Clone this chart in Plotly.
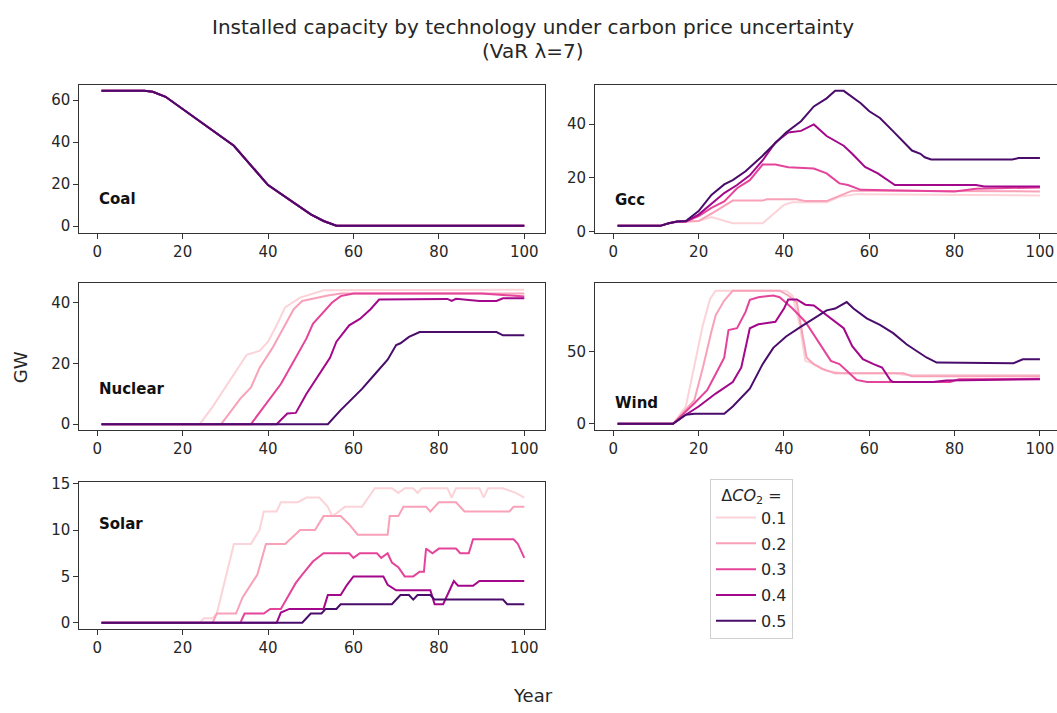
import plotly.graph_objects as go

# ---- data: installed capacity (GW) by technology, per carbon-price step ----
delta_co2 = ["0.1", "0.2", "0.3", "0.4", "0.5"]
colors = ["#fbd3d8", "#f8a1b9", "#e5449b", "#a3078a", "#4a0c6b"]

coal_years = [1, 11, 13, 16, 32, 40, 50, 53, 56, 100]
coal_vals = [64.5, 64.5, 64.0, 61.6, 38.3, 19.6, 5.6, 2.5, 0.2, 0.2]

gcc_years_01 = [1, 11, 13, 15, 17, 20, 23, 28, 35, 40, 42, 50, 53, 57, 100]
gcc_vals_01 = [2.2, 2.2, 3.2, 3.8, 3.8, 4.0, 5.5, 3.2, 3.2, 10.0, 11.0, 11.0, 13.0, 14.0, 13.5]
gcc_years_02 = [1, 11, 13, 15, 17, 20, 24, 28, 35, 36, 43, 45, 50, 53, 56, 100]
gcc_vals_02 = [2.2, 2.2, 3.2, 3.8, 3.8, 4.0, 7.7, 11.6, 11.6, 12.1, 12.1, 11.4, 11.4, 13.5, 15.3, 15.0]
gcc_years_03 = [1, 11, 13, 15, 17, 20, 23, 26, 29, 32, 35, 38, 41, 47, 50, 53, 55, 58, 80, 85, 100]
gcc_vals_03 = [2.2, 2.2, 3.2, 3.8, 3.8, 5.8, 8.9, 11.3, 16.2, 19.2, 25.0, 25.0, 24.0, 23.5, 21.7, 18.0, 17.4, 15.6, 15.0, 16.0, 16.5]
gcc_years_04 = [1, 11, 13, 15, 17, 20, 26, 29, 32, 35, 38, 41, 44, 47, 50, 54, 56, 59, 62, 66, 85, 87, 100]
gcc_vals_04 = [2.2, 2.2, 3.2, 3.8, 3.8, 6.4, 14.4, 17.4, 21.0, 26.5, 33.2, 36.9, 37.5, 39.9, 35.6, 32.0, 29.0, 24.1, 21.7, 17.4, 17.4, 16.8, 16.8]
gcc_years_05 = [1, 11, 13, 15, 17, 20, 23, 26, 28, 31, 35, 40.5, 44, 47, 50, 52, 54, 58, 60, 62.5, 65.5, 70, 72, 73, 74.5, 93.5, 95, 100]
gcc_vals_05 = [2.2, 2.2, 3.2, 3.8, 4.0, 7.7, 13.7, 17.6, 19.2, 22.5, 28.3, 36.9, 41.1, 46.6, 49.6, 52.4, 52.4, 47.8, 44.8, 42.3, 37.5, 30.2, 29.0, 27.7, 26.9, 26.9, 27.4, 27.4]

nuc_years_01 = [1, 24, 27, 30, 33, 35, 38, 40, 42, 44, 47.5, 50.5, 53, 100]
nuc_vals_01 = [0, 0, 5.7, 12.1, 18.5, 22.8, 24.1, 27.1, 32.5, 38.4, 41.6, 43.0, 44.0, 44.2]
nuc_years_02 = [1, 29, 31.5, 33.5, 36, 38, 41, 43.5, 46, 48, 51.5, 54, 57, 100]
nuc_vals_02 = [0, 0, 4.6, 8.4, 12.1, 18.5, 25.0, 31.4, 37.8, 40.5, 41.6, 42.3, 43.0, 43.0]
nuc_years_03 = [1, 36, 39, 43, 46, 49, 50.5, 53, 55, 57, 60, 90, 100]
nuc_vals_03 = [0, 0, 5.7, 13.2, 20.7, 28.2, 33.0, 36.8, 40.0, 42.1, 43.0, 43.0, 42.0]
nuc_years_04 = [1, 42, 44.5, 46.5, 49, 51.5, 54.5, 56, 59, 61.5, 64, 66, 82, 83, 84, 89.5, 93.5, 95, 100]
nuc_vals_04 = [0, 0, 3.5, 3.7, 10.0, 15.3, 21.8, 27.1, 32.5, 34.6, 37.8, 41.0, 41.2, 40.5, 41.2, 40.5, 40.5, 41.4, 41.4]
nuc_years_05 = [1, 54, 57, 60, 62, 65, 68, 70, 71, 73, 75.5, 93.5, 95, 100]
nuc_vals_05 = [0, 0, 4.6, 8.9, 11.6, 16.4, 21.2, 26.0, 26.6, 28.7, 30.3, 30.3, 29.2, 29.2]

wind_years_01 = [1, 14, 17, 19.5, 21, 22.7, 24, 40.5, 42, 43.7, 45, 47, 50, 54, 66, 68, 100]
wind_vals_01 = [0, 0, 12.0, 45.9, 68.6, 86.7, 92.3, 92.3, 88.9, 68.6, 43.7, 41.4, 36.9, 35.0, 35.0, 34.0, 33.8]
wind_years_02 = [1, 14, 19, 21, 23, 24, 26, 28, 39, 41, 43, 44.5, 45.3, 47, 49, 52, 68, 70, 100]
wind_vals_02 = [0, 0, 16.5, 39.0, 64.0, 75.3, 85.5, 92.3, 92.3, 89.0, 84.4, 57.5, 46.0, 41.4, 38.0, 35.0, 35.0, 33.0, 33.0]
wind_years_03 = [1, 14, 19, 22, 24, 26, 27, 29, 31, 32, 34, 37.5, 39, 42, 45, 48, 51, 53, 55.5, 57, 59.5, 79, 81, 100]
wind_vals_03 = [0, 0, 14.3, 23.3, 34.6, 45.9, 65.0, 66.3, 77.6, 86.0, 87.8, 88.9, 87.8, 79.9, 70.8, 57.2, 43.7, 41.4, 34.6, 30.5, 29.0, 29.0, 31.0, 31.2]
wind_years_04 = [1, 14, 17, 20, 24, 28, 30, 32, 34, 38, 40, 41, 43, 45, 47, 50, 54, 56, 58.5, 61, 63, 65, 65.6, 75, 78, 100]
wind_vals_04 = [0, 0, 6.3, 12.0, 21.0, 29.0, 39.1, 66.3, 69.0, 70.8, 79.9, 86.2, 86.2, 82.6, 82.1, 75.3, 66.3, 53.8, 44.8, 41.4, 39.1, 30.1, 29.0, 29.0, 30.0, 31.0]
wind_years_05 = [1, 14, 17, 19, 26, 28, 32, 35, 37.5, 40.5, 44, 47, 50, 52, 54.7, 56.3, 59.4, 62.5, 65.6, 68.8, 71, 73.4, 75.8, 80, 81, 82, 93.8, 96, 100]
wind_vals_05 = [0, 0, 6.3, 7.0, 7.0, 12.0, 24.4, 41.4, 52.7, 60.6, 67.4, 73.1, 78.7, 79.9, 84.4, 79.9, 73.1, 68.6, 62.9, 55.0, 50.5, 46.0, 42.5, 42.5, 42.0, 42.5, 42.0, 44.8, 44.8]

solar_years_01 = [1, 24, 25, 27, 28, 30, 32, 36, 38, 39, 42, 43, 47, 49, 52, 54, 55, 56, 58, 62, 65, 69, 70.5, 72, 74, 75, 76, 82, 83, 84, 89.5, 90.5, 91.5, 95, 98, 100]
solar_vals_01 = [0, 0, 0.5, 0.5, 1, 4.8, 8.5, 8.5, 10, 12, 12, 13, 13, 13.5, 13.5, 12.5, 11.5, 11.8, 12.5, 12.5, 14.5, 14.5, 14, 14.5, 14.5, 14, 14.5, 14.5, 13.5, 14.5, 14.5, 13.5, 14.5, 14.5, 14, 13.5]
solar_years_02 = [1, 27, 28, 32.5, 34, 36, 37.5, 39.5, 44, 47.5, 51, 53, 57, 59, 61, 68, 68.5, 70.5, 71.7, 77, 78, 79, 80, 84, 86, 96.5, 97.5, 100]
solar_vals_02 = [0, 0, 1, 1, 2.7, 4.1, 5.2, 8.5, 8.5, 10, 10, 11.5, 11.5, 10.6, 9.5, 9.5, 11.5, 11.5, 12.5, 12.5, 12, 12.5, 13, 13, 12, 12, 12.5, 12.5]
solar_years_03 = [1, 33.5, 34.5, 39, 40.5, 43, 44.5, 46.5, 48, 50.5, 53, 59, 60, 61.5, 65.5, 66.5, 68, 69, 70.5, 72, 74, 75.5, 76.5, 77, 78.5, 80, 84, 85, 87, 88, 97.5, 98.5, 100]
solar_vals_03 = [0, 0, 1, 1, 1.5, 1.5, 2.7, 4.3, 5.2, 6.6, 7.5, 7.5, 7, 7.5, 7.5, 7, 7.5, 6.5, 6, 5, 5, 5.5, 5.5, 8, 7.5, 8, 8, 7.5, 7.5, 9, 9, 8.5, 7]
solar_years_04 = [1, 42, 43, 45, 53, 54, 57, 58.5, 60, 67, 68, 70, 78, 79, 81, 83.5, 84.5, 88, 89.5, 100]
solar_vals_04 = [0, 0, 1.1, 1.5, 1.5, 3, 3, 4.1, 5, 5, 4.1, 3.5, 3.5, 2, 2, 4.5, 4, 4, 4.5, 4.5]
solar_years_05 = [1, 48, 50, 52.5, 53.5, 56, 57, 69, 71, 73, 74, 75, 78, 79, 95, 96, 100]
solar_vals_05 = [0, 0, 1, 1, 1.5, 1.5, 2, 2, 3, 3, 2.5, 3, 3, 2.5, 2.5, 2, 2]

x_ticks = [0, 20, 40, 60, 80, 100]

panels = [
    # name, row, col, series (years, values), y ticks, y range, label y
    ("Coal", 1, 1,
     [(coal_years, coal_vals)] * 5,
     [0, 20, 40, 60], [-3.3, 67.4], 12.9),
    ("Gcc", 1, 2,
     [(gcc_years_01, gcc_vals_01), (gcc_years_02, gcc_vals_02), (gcc_years_03, gcc_vals_03),
      (gcc_years_04, gcc_vals_04), (gcc_years_05, gcc_vals_05)],
     [0, 20, 40], [-0.5, 54.7], 11.9),
    ("Nuclear", 2, 1,
     [(nuc_years_01, nuc_vals_01), (nuc_years_02, nuc_vals_02), (nuc_years_03, nuc_vals_03),
      (nuc_years_04, nuc_vals_04), (nuc_years_05, nuc_vals_05)],
     [0, 20, 40], [-1.9, 46.4], 11.6),
    ("Wind", 2, 2,
     [(wind_years_01, wind_vals_01), (wind_years_02, wind_vals_02), (wind_years_03, wind_vals_03),
      (wind_years_04, wind_vals_04), (wind_years_05, wind_vals_05)],
     [0, 50], [-4.2, 97.6], 14.3),
    ("Solar", 3, 1,
     [(solar_years_01, solar_vals_01), (solar_years_02, solar_vals_02), (solar_years_03, solar_vals_03),
      (solar_years_04, solar_vals_04), (solar_years_05, solar_vals_05)],
     [0, 5, 10, 15], [-0.63, 15.2], 10.6),
]

# ---- layout geometry (paper fractions) ----
W, H = 1057, 713
col_dom = {1: [79.3 / W, 545 / W], 2: [595 / W, 1.0]}
col_rng = {1: [-4.2, 104.85], 2: [-4.29, 104.0]}
row_dom = {1: [1 - 231 / H, 1 - 79.3 / H],
           2: [1 - 432 / H, 1 - 282 / H],
           3: [1 - 635 / H, 1 - 485 / H]}

FONT = "DejaVu Sans"
AX = "#333333"
TXT = "#262626"
TICK = 15

fig = go.Figure()
layout = dict(
    width=W, height=H,
    margin=dict(l=0, r=0, t=0, b=0),
    paper_bgcolor="white", plot_bgcolor="white",
    font=dict(family=FONT, size=TICK, color=TXT),
    annotations=[],
    showlegend=True,
)

for i, (name, row, col, series, yt, yr, label_y) in enumerate(panels):
    n = i + 1
    xa = "xaxis" if n == 1 else f"xaxis{n}"
    ya = "yaxis" if n == 1 else f"yaxis{n}"
    xr = "x" if n == 1 else f"x{n}"
    yref = "y" if n == 1 else f"y{n}"
    for k, (yrs, vals) in enumerate(series):
        fig.add_trace(go.Scatter(
            x=yrs, y=vals, mode="lines",
            line=dict(color=colors[k], width=2),
            name=delta_co2[k], legendgroup=delta_co2[k],
            showlegend=(n == 1), xaxis=xr, yaxis=yref,
            hoverinfo="skip",
        ))
    layout[xa] = dict(
        domain=col_dom[col], range=col_rng[col], anchor=yref,
        tickvals=x_ticks, ticks="outside", ticklen=5, tickcolor=AX,
        showline=True, linecolor=AX, linewidth=1, mirror=True,
        showgrid=False, zeroline=False,
        tickfont=dict(family=FONT, size=TICK, color=TXT),
    )
    layout[ya] = dict(
        domain=row_dom[row], range=yr, anchor=xr,
        tickvals=yt, ticks="outside", ticklen=5, tickcolor=AX,
        showline=True, linecolor=AX, linewidth=1,
        mirror=(col == 1),
        showgrid=False, zeroline=False,
        tickfont=dict(family=FONT, size=TICK, color=TXT),
    )
    layout["annotations"].append(dict(
        x=0, y=label_y, xref=xr, yref=yref, text=f"<b>{name}</b>",
        showarrow=False, xanchor="left", yanchor="middle",
        font=dict(family=FONT, size=15, color="#111111"),
    ))

# figure titles and shared axis labels
layout["annotations"] += [
    dict(x=533 / W, y=1 - 20 / H, xref="paper", yref="paper",
         text="Installed capacity by technology under carbon price uncertainty",
         showarrow=False, xanchor="center", yanchor="middle",
         font=dict(family=FONT, size=20, color=TXT)),
    dict(x=533 / W, y=1 - 45 / H, xref="paper", yref="paper",
         text="(VaR λ=7)",
         showarrow=False, xanchor="center", yanchor="middle",
         font=dict(family=FONT, size=20, color=TXT)),
    dict(x=20 / W, y=1 - 368 / H, xref="paper", yref="paper",
         text="GW", textangle=-90,
         showarrow=False, xanchor="center", yanchor="middle",
         font=dict(family=FONT, size=18, color=TXT)),
    dict(x=533 / W, y=1 - 703 / H, xref="paper", yref="paper",
         text="Year",
         showarrow=False, xanchor="center", yanchor="middle",
         font=dict(family=FONT, size=18, color=TXT)),
]

layout["legend"] = dict(
    x=710 / W, y=1 - 482 / H, xanchor="left", yanchor="top",
    bgcolor="white", bordercolor="#d0d0d0", borderwidth=1,
    font=dict(family=FONT, size=16, color=TXT),
    title=dict(text="Δ<i>CO</i><sub>2</sub> =", side="top center",
               font=dict(family=FONT, size=16, color=TXT)),
    itemwidth=40,
    tracegroupgap=2,
)

fig.update_layout(**layout)
fig.write_html("out.html")
